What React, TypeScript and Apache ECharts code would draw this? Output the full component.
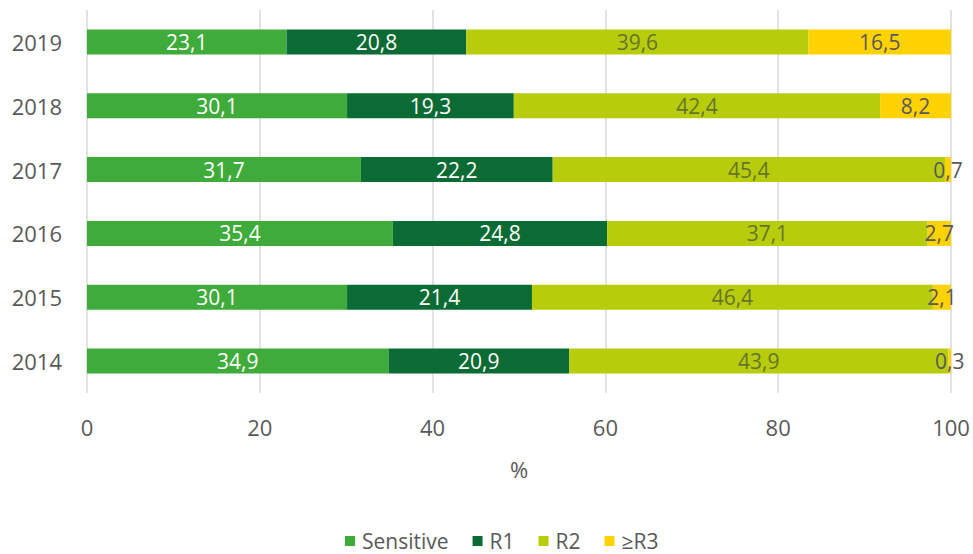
import React, { useEffect, useRef } from "react";
import * as echarts from "echarts";

const years = ["2014", "2015", "2016", "2017", "2018", "2019"];
const sensitive = [34.9, 30.1, 35.4, 31.7, 30.1, 23.1];
const r1 = [20.9, 21.4, 24.8, 22.2, 19.3, 20.8];
const r2 = [43.9, 46.4, 37.1, 45.4, 42.4, 39.6];
const r3 = [0.3, 2.1, 2.7, 0.7, 8.2, 16.5];
const xTicks = [0, 20, 40, 60, 80, 100];

const FONT = "'Open Sans', sans-serif";
const GRAY = "#595959";

export default function App() {
  const ref = useRef<HTMLDivElement>(null);
  useEffect(() => {
    if (!ref.current) return;
    const chart = echarts.init(ref.current, undefined, { renderer: "svg" });
    const fmt = (p: any) => String(p.value).replace(".", ",");
    const mk = (name: string, data: number[], color: string, labelColor: string) => ({
      name,
      type: "bar",
      stack: "total",
      data,
      barWidth: 25,
      itemStyle: { color },
      label: {
        show: true,
        position: "inside",
        formatter: fmt,
        color: labelColor,
        fontSize: 21,
        fontFamily: FONT,
      },
    });
    chart.setOption({
      animation: false,
      grid: { left: 87, right: 22, top: 10, bottom: 161 },
      legend: {
        bottom: 0,
        left: 340,
        padding: [0, 5, 2, 5],
        itemWidth: 10,
        itemHeight: 10,
        itemGap: 24,
        icon: "rect",
        textStyle: {
          color: GRAY,
          fontSize: 21,
          lineHeight: 22,
          fontFamily: FONT,
          padding: [0, 0, 0, 2],
        },
        data: ["Sensitive", "R1", "R2", "≥R3"],
      },
      xAxis: {
        type: "value",
        min: xTicks[0],
        max: xTicks[xTicks.length - 1],
        interval: 20,
        name: "%",
        nameLocation: "middle",
        nameGap: 65,
        nameTextStyle: { color: GRAY, fontSize: 22, fontFamily: FONT },
        axisLine: { show: false },
        axisTick: { show: false },
        axisLabel: { color: GRAY, fontSize: 22, fontFamily: FONT, margin: 23 },
        splitLine: { show: true, lineStyle: { color: "#d9d9d9", width: 1.5 } },
      },
      yAxis: {
        type: "category",
        data: years,
        axisLine: { show: false },
        axisTick: { show: false },
        axisLabel: { color: GRAY, fontSize: 22, fontFamily: FONT, margin: 25 },
      },
      series: [
        mk("Sensitive", sensitive, "#3FAB3A", "#ffffff"),
        mk("R1", r1, "#0B6B35", "#ffffff"),
        mk("R2", r2, "#B7CC0B", "#66742a"),
        mk("≥R3", r3, "#FFD200", GRAY),
      ],
    });
    return () => chart.dispose();
  }, []);
  return (
    <div
      ref={ref}
      style={{ position: "absolute", left: 0, top: 0, width: 973, height: 554 }}
    />
  );
}
